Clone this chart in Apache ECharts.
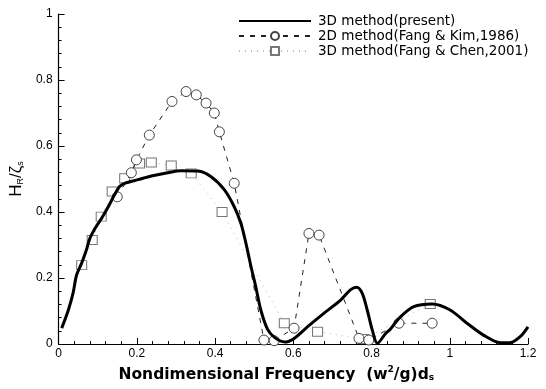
<!DOCTYPE html>
<html><head><meta charset="utf-8">
<script src="https://cdn.jsdelivr.net/npm/echarts@6/dist/echarts.min.js"></script>
<style>html,body{margin:0;padding:0;background:#fff}#c{width:546px;height:389px}</style>
</head><body><div id="c"></div>
<script>
var xTicks = [0, 0.2, 0.4, 0.6, 0.8, 1, 1.2];
var yTicks = [0, 0.2, 0.4, 0.6, 0.8, 1];
var seriesNames = ['3D method(present)', '2D method(Fang & Kim,1986)', '3D method(Fang & Chen,2001)'];
var presentX = [0.008,0.025,0.037,0.046,0.059,0.071,0.08,0.093,0.11,0.127,0.143,0.156,0.169,0.203,0.237,0.279,0.313,0.356,0.39,0.424,0.449,0.466,0.479,0.492,0.504,0.517,0.534,0.552,0.578,0.602,0.636,0.678,0.721,0.746,0.762,0.776,0.789,0.802,0.815,0.836,0.848,0.872,0.908,0.955,1.001,1.044,1.086,1.129,1.154,1.18,1.2];
var presentY = [0.048,0.103,0.154,0.209,0.245,0.285,0.32,0.35,0.381,0.416,0.452,0.477,0.487,0.498,0.509,0.519,0.525,0.524,0.507,0.467,0.416,0.366,0.305,0.234,0.174,0.103,0.045,0.02,0.006,0.017,0.052,0.093,0.133,0.164,0.172,0.154,0.103,0.042,0.002,0.032,0.045,0.08,0.113,0.121,0.103,0.063,0.027,0.004,0.004,0.022,0.052];
var kimX = [0.15,0.186,0.199,0.232,0.29,0.326,0.352,0.377,0.398,0.411,0.449,0.525,0.551,0.602,0.64,0.666,0.768,0.793,0.87,0.955];
var kimY = [0.446,0.519,0.558,0.633,0.735,0.765,0.755,0.73,0.7,0.643,0.487,0.012,0.01,0.048,0.335,0.33,0.017,0.012,0.063,0.063];
var chenX = [0.059,0.086,0.109,0.137,0.169,0.207,0.237,0.288,0.339,0.418,0.577,0.662,0.78,0.95];
var chenY = [0.239,0.315,0.386,0.462,0.502,0.547,0.55,0.541,0.517,0.4,0.063,0.037,0.015,0.121];

function pairs(xs, ys){ return xs.map(function(x,i){ return [x, ys[i]]; }); }
var F = '"Liberation Sans", Arial, sans-serif';
var D = '"DejaVu Sans", sans-serif';
var chart = echarts.init(document.getElementById('c'), null, {renderer:'canvas'});
chart.setOption({
  animation:false,
  backgroundColor:'#fff',
  grid:{left:57, right:18, top:14, bottom:45},
  legend:{
    orient:'vertical', left:233, top:9, itemWidth:72, itemHeight:10, itemGap:1,
    textStyle:{fontFamily:D, fontSize:13.5, color:'#000', padding:[0,0,0,2]},
    data:[
      {name:seriesNames[0], itemStyle:{opacity:0}},
      {name:seriesNames[1]},
      {name:seriesNames[2]}
    ]
  },
  xAxis:{
    type:'value', min:0, max:1.2, interval:0.2,
    axisLine:{lineStyle:{color:'#000', width:1.2}},
    axisTick:{inside:true, length:6, lineStyle:{color:'#000'}},
    minorTick:{show:true, splitNumber:5, length:3, lineStyle:{color:'#000'}},
    splitLine:{show:false},
    axisLabel:{color:'#000', fontFamily:F, fontSize:12, margin:4,
      formatter:function(v){ var s = xTicks.find(function(t){return Math.abs(t-v)<1e-6;}); return s===undefined?'':String(s); }},
    name:'{b|Nondimensional Frequency  (w}{sup|2}{b|/g)d}{sub|s}',
    nameLocation:'middle', nameGap:21,
    nameTextStyle:{padding:[0,34,0,0], rich:{
      b:{fontFamily:D, fontSize:15.5, fontWeight:'bold', color:'#000'},
      sup:{fontFamily:D, fontSize:9, fontWeight:'bold', color:'#000', padding:[0,0,10,0]},
      sub:{fontFamily:D, fontSize:9, fontWeight:'bold', color:'#000', padding:[7,0,0,0]}
    }}
  },
  yAxis:{
    type:'value', min:0, max:1, interval:0.2,
    axisLine:{show:true, lineStyle:{color:'#000', width:1.2}},
    axisTick:{show:true, inside:true, length:6, lineStyle:{color:'#000'}},
    minorTick:{show:true, splitNumber:5, length:3, lineStyle:{color:'#000'}},
    splitLine:{show:false},
    axisLabel:{color:'#000', fontFamily:F, fontSize:12, margin:6,
      formatter:function(v){ var s = yTicks.find(function(t){return Math.abs(t-v)<1e-6;}); return s===undefined?'':String(s); }},
    name:'{b|H}{sub|R}{b|/ζ}{sub|s}',
    nameLocation:'middle', nameGap:28, nameRotate:90,
    nameTextStyle:{rich:{
      b:{fontFamily:F, fontSize:17, color:'#000'},
      sub:{fontFamily:F, fontSize:9, color:'#000', padding:[8,0,0,0]}
    }}
  },
  series:[
    {name:seriesNames[2], type:'line', data:pairs(chenX, chenY), symbol:'rect', symbolSize:[10,9],
     itemStyle:{color:'#fff', borderColor:'#777', borderWidth:1},
     lineStyle:{color:'#bbb', width:1, type:[1,5]}, z:2},
    {name:seriesNames[1], type:'line', data:pairs(kimX, kimY), symbol:'circle', symbolSize:10,
     itemStyle:{color:'#fff', borderColor:'#444', borderWidth:1},
     lineStyle:{color:'#222', width:1, type:[5,6]}, z:3},
    {name:seriesNames[0], type:'line', data:pairs(presentX, presentY), symbol:'none', smooth:0.3,
     itemStyle:{color:'#000'},
     lineStyle:{color:'#000', width:3}, z:4}
  ]
});
</script></body></html>
